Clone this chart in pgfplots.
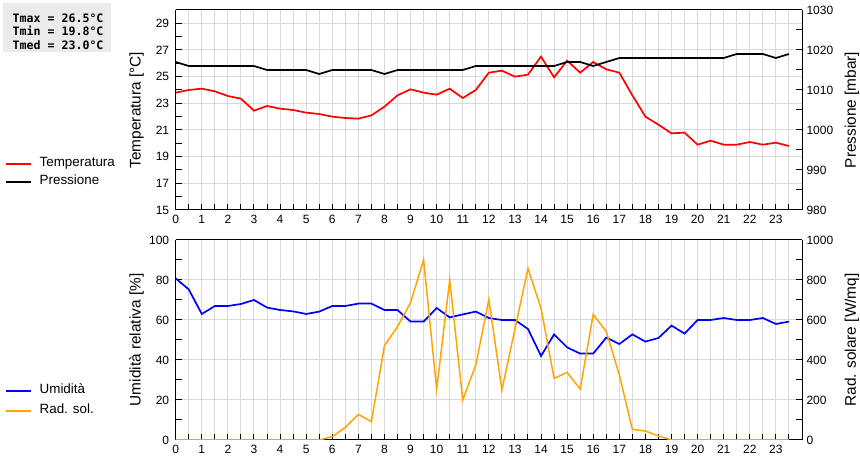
\documentclass[border=0pt]{standalone}
\usepackage{pgfplots}
\pgfplotsset{compat=1.18}
\usepackage{fontspec}
\setmainfont{Liberation Sans}
\newfontfamily\boxfont{DejaVu Sans Mono}
\definecolor{gridgray}{RGB}{217,217,217}
\definecolor{boxgray}{RGB}{235,235,235}
\definecolor{solorange}{RGB}{255,165,0}

\pgfplotsset{
  meteo/.style={
    scale only axis, width=626.3pt, height=200pt, anchor=south west,
    xmin=0, xmax=24,
    tick align=inside,
    major tick length=6pt, minor tick length=6pt,
    every tick/.style={black, line width=1pt},
    axis line style={line width=1pt},
    tick label style={font=\fontsize{12}{14}\selectfont},
    /pgf/number format/assume math mode=true,
    /pgf/number format/1000 sep={},
  },
  leftax/.style={
    meteo, axis y line*=left, xtick pos=bottom,
    xtick={0,...,23}, minor xtick={0.5,1.5,...,23.5},
    xmajorgrids, xminorgrids, ymajorgrids,
    grid style={draw=gridgray, line width=1pt},
    minor grid style={draw=gridgray, line width=1pt},
    xticklabel style={yshift=-2pt},
    yticklabel style={xshift=-3pt},
    every axis y label/.style={at={(axis description cs:-0.0625,0.5)}, rotate=90, anchor=center,
      font=\fontsize{15.4}{18}\selectfont},
    legend cell align=left,
    legend image code/.code={\draw[#1] (0pt,0pt) -- (25pt,0pt);},
  },
  rightax/.style={
    meteo, axis y line*=right, axis x line=none,
    yticklabel style={xshift=1pt},
    every axis y label/.style={at={(axis description cs:1.0795,0.5)}, rotate=90, anchor=center,
      font=\fontsize{15.4}{18}\selectfont},
  },
}

\begin{document}
\begin{tikzpicture}

% ---- top panel: temperatura / pressione
\begin{axis}[leftax, at={(175.7pt,250pt)},
  ymin=15, ymax=30, ytick={15,17,...,29}, minor ytick={16,18,...,30},
  ylabel={Temperatura [°C]},
  legend style={at={(axis description cs:-0.2726,0.26)}, anchor=north west,
    draw=none, fill=none, inner sep=0pt, outer sep=0pt, row sep=6pt, column sep=8pt,
    nodes={inner sep=0pt, text height=9pt, text depth=3pt},
    font=\fontsize{13.4}{16}\selectfont},
]
\addplot[red, line width=1.7pt] coordinates {
  (0,23.8) (0.5,24.0) (1,24.1) (1.5,23.9) (2,23.55) (2.5,23.35) (3,22.45) (3.5,22.8)
  (4,22.6) (4.5,22.5) (5,22.3) (5.5,22.2) (6,22.0) (6.5,21.9) (7,21.85) (7.5,22.1)
  (8,22.75) (8.5,23.6) (9,24.05) (9.5,23.8) (10,23.65) (10.5,24.1) (11,23.4) (11.5,24.0)
  (12,25.3) (12.5,25.45) (13,25.0) (13.5,25.15) (14,26.5) (14.5,24.95) (15,26.2) (15.5,25.3)
  (16,26.1) (16.5,25.55) (17,25.3) (17.5,23.6) (18,22.0) (18.5,21.4) (19,20.75) (19.5,20.8)
  (20,19.9) (20.5,20.2) (21,19.9) (21.5,19.9) (22,20.1) (22.5,19.9) (23,20.05) (23.5,19.8)
};
\addlegendentry{Temperatura}
\addlegendimage{black, line width=1.7pt}
\addlegendentry{Pressione}
\end{axis}

\begin{axis}[rightax, at={(175.7pt,250pt)},
  ymin=980, ymax=1030, ytick={980,990,...,1030}, minor ytick={985,995,...,1025},
  ylabel={Pressione [mbar]},
]
\addplot[black, line width=1.7pt] coordinates {
  (0,1017) (0.5,1016) (1,1016) (1.5,1016) (2,1016) (2.5,1016) (3,1016) (3.5,1015)
  (4,1015) (4.5,1015) (5,1015) (5.5,1014) (6,1015) (6.5,1015) (7,1015) (7.5,1015)
  (8,1014) (8.5,1015) (9,1015) (9.5,1015) (10,1015) (10.5,1015) (11,1015) (11.5,1016)
  (12,1016) (12.5,1016) (13,1016) (13.5,1016) (14,1016) (14.5,1016) (15,1017) (15.5,1017)
  (16,1016) (16.5,1017) (17,1018) (17.5,1018) (18,1018) (18.5,1018) (19,1018) (19.5,1018)
  (20,1018) (20.5,1018) (21,1018) (21.5,1019) (22,1019) (22.5,1019) (23,1018) (23.5,1019)
};
\end{axis}

% ---- bottom panel: umidita / radiazione solare
\begin{axis}[leftax, at={(175.7pt,20pt)},
  ymin=0, ymax=100, ytick={0,20,...,100}, minor ytick={10,30,...,90},
  ylabel={Umidità relativa [\%]},
  legend style={at={(axis description cs:-0.2726,0.275)}, anchor=north west,
    draw=none, fill=none, inner sep=0pt, outer sep=0pt, row sep=8pt, column sep=8pt,
    nodes={inner sep=0pt, text height=9pt, text depth=3pt},
    font=\fontsize{13.4}{16}\selectfont},
]
\addplot[blue, line width=1.7pt] coordinates {
  (0,80.8) (0.5,75.3) (1,63) (1.5,67) (2,67) (2.5,68) (3,70) (3.5,66.2)
  (4,65) (4.5,64.3) (5,63) (5.5,64.2) (6,67) (6.5,67) (7,68.2) (7.5,68.2)
  (8,65) (8.5,65) (9,59.2) (9.5,59.2) (10,66) (10.5,61.3) (11,62.8) (11.5,64.2)
  (12,61) (12.5,60) (13,60) (13.5,55.5) (14,42) (14.5,52.8) (15,46.3) (15.5,43.2)
  (16,43.2) (16.5,51.2) (17,48) (17.5,52.8) (18,49.2) (18.5,51) (19,57.2) (19.5,53.2)
  (20,60) (20.5,60) (21,61) (21.5,60) (22,60) (22.5,61) (23,58) (23.5,59.2)
};
\addlegendentry{Umidità}
\addlegendimage{solorange, line width=1.7pt}
\addlegendentry{Rad. sol.}
\end{axis}

\begin{axis}[rightax, at={(175.7pt,20pt)},
  ymin=0, ymax=1000, ytick={0,200,...,1000}, minor ytick={100,300,...,900},
  ylabel={Rad. solare [W/mq]},
]
\addplot[solorange, line width=1.5pt] coordinates {
  (0,0) (0.5,0) (1,0) (1.5,0) (2,0) (2.5,0) (3,0) (3.5,0)
  (4,0) (4.5,0) (5,0) (5.5,0) (6,17) (6.5,63) (7,128) (7.5,92)
  (8,472) (8.5,567) (9,687) (9.5,900) (10,253) (10.5,800) (11,200) (11.5,375)
  (12,703) (12.5,250) (13,555) (13.5,858) (14,658) (14.5,308) (15,338) (15.5,255)
  (16,628) (16.5,542) (17,325) (17.5,53) (18,45) (18.5,20) (19,0) (19.5,0)
  (20,0) (20.5,0) (21,0) (21.5,0) (22,0) (22.5,0) (23,0) (23.5,0)
};
\end{axis}

% ---- riquadro statistiche
\fill[boxgray] (3.3pt,407.7pt) rectangle (111pt,456.7pt);
\node[anchor=north west, inner sep=0pt, align=left, font=\boxfont\bfseries\fontsize{11.6}{13.7}\selectfont]
  at (12.5pt,446.7pt) {Tmax = 26.5°C\\Tmin = 19.8°C\\Tmed = 23.0°C};

\pgfresetboundingbox
\useasboundingbox (0,0) rectangle (860pt,460pt);
\end{tikzpicture}
\end{document}
